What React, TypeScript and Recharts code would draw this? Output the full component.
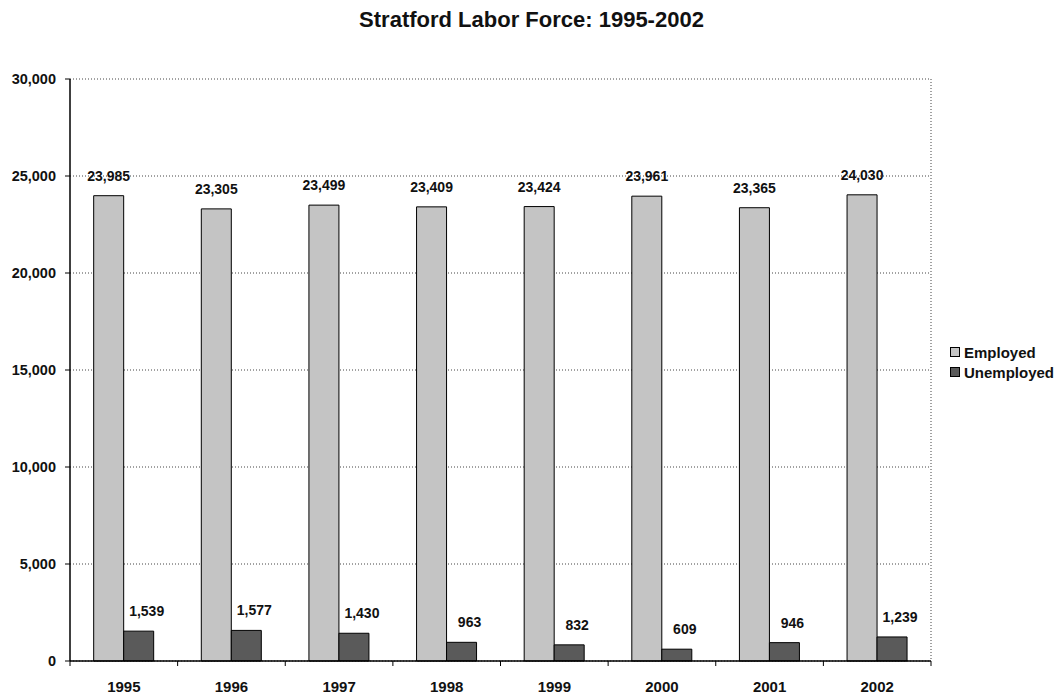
import React from 'react';
import { BarChart, Bar, XAxis, YAxis, CartesianGrid, Legend, LabelList } from 'recharts';

const years = ['1995', '1996', '1997', '1998', '1999', '2000', '2001', '2002'];
const employed = [23985, 23305, 23499, 23409, 23424, 23961, 23365, 24030];
const unemployed = [1539, 1577, 1430, 963, 832, 609, 946, 1239];
const yTicks = [0, 5000, 10000, 15000, 20000, 25000, 30000];

const data = years.map((y, i) => ({ year: y, Employed: employed[i], Unemployed: unemployed[i] }));

const FONT = '"Liberation Sans", Arial, sans-serif';
const fmt = (v: number) => v.toLocaleString('en-US');

const LegendContent = () => (
  <div style={{ fontFamily: FONT, fontWeight: 'bold', fontSize: 15, color: '#111' }}>
    {[
      { name: 'Employed', color: '#c4c4c4' },
      { name: 'Unemployed', color: '#5a5a5a' },
    ].map((it) => (
      <div key={it.name} style={{ display: 'flex', alignItems: 'center', height: 20 }}>
        <span style={{ display: 'inline-block', width: 8, height: 8, background: it.color, border: '1px solid #000', marginRight: 4 }} />
        {it.name}
      </div>
    ))}
  </div>
);

const YearTick = (props: any) => {
  const { x, y, payload, index, visibleTicksCount } = props;
  const half = payload && payload.offset ? payload.offset : 0;
  return (
    <g>
      <line x1={x - half} x2={x - half} y1={y - 19} y2={y - 14} stroke="#000" />
      {index === visibleTicksCount - 1 ? <line x1={x + half} x2={x + half} y1={y - 19} y2={y - 14} stroke="#000" /> : null}
      <text x={x} y={y} dy={12} textAnchor="middle" fontFamily={FONT} fontWeight="bold" fontSize={15} fill="#111">
        {payload.value}
      </text>
    </g>
  );
};

export default function App() {
  return (
    <div style={{ position: 'absolute', left: 0, top: 0, width: 1063, height: 694, background: '#fff' }}>
      <div style={{ position: 'absolute', left: 0, width: 1063, top: 7, textAlign: 'center', fontFamily: FONT, fontWeight: 'bold', fontSize: 22, color: '#111' }}>
        Stratford Labor Force: 1995-2002
      </div>
      <BarChart width={1063} height={694} data={data} margin={{ top: 79, right: 17, left: 10, bottom: 3 }} barCategoryGap="22%" barGap={0}>
        <CartesianGrid vertical={false} xAxisId="cat" yAxisId="l" stroke="#444" strokeDasharray="1 2" />
        <XAxis dataKey="year" xAxisId="cat" tickLine={false} axisLine={{ stroke: '#000', strokeWidth: 1.5 }} height={30}
          tick={<YearTick />} tickMargin={13} interval={0} />
        <YAxis yAxisId="l" domain={[0, 30000]} ticks={yTicks} tickFormatter={fmt} width={60} tickSize={5} tickMargin={9}
          axisLine={{ stroke: '#000', strokeWidth: 1.5 }} tickLine={{ stroke: '#000' }}
          tick={{ fontFamily: FONT, fontWeight: 'bold', fontSize: 14.5, fill: '#111' }} interval={0} />
        <YAxis yAxisId="r" orientation="right" domain={[0, 30000]} ticks={yTicks} tick={false} tickLine={false} width={2}
          axisLine={{ stroke: '#444', strokeDasharray: '1 2' }} />
        <Legend layout="vertical" align="right" verticalAlign="top" content={<LegendContent />}
          wrapperStyle={{ left: 950, top: 342, width: 113 }} />
        <Bar dataKey="Employed" xAxisId="cat" yAxisId="l" fill="#c4c4c4" stroke="#000" strokeWidth={1} isAnimationActive={false}>
          <LabelList dataKey="Employed" position="top" offset={15} formatter={(v: any) => fmt(Number(v))}
            style={{ fontFamily: FONT, fontWeight: 'bold', fontSize: 14, fill: '#111' }} />
        </Bar>
        <Bar dataKey="Unemployed" xAxisId="cat" yAxisId="l" fill="#5a5a5a" stroke="#000" strokeWidth={1} isAnimationActive={false}>
          <LabelList dataKey="Unemployed" position="top" offset={15} dx={8} formatter={(v: any) => fmt(Number(v))}
            style={{ fontFamily: FONT, fontWeight: 'bold', fontSize: 14, fill: '#111' }} />
        </Bar>
      </BarChart>
    </div>
  );
}
